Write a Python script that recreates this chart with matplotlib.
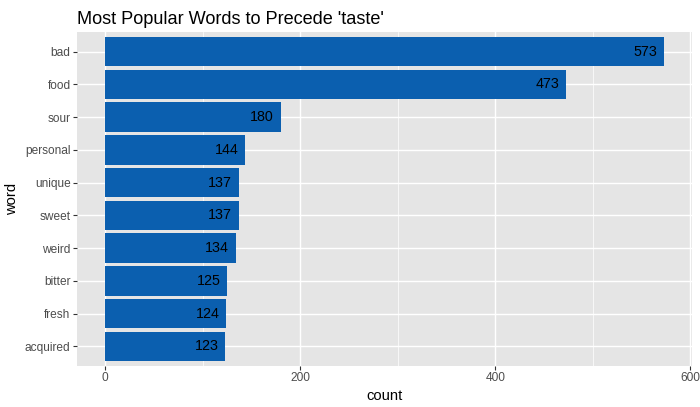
import matplotlib
matplotlib.use("Agg")
import matplotlib.pyplot as plt

words = ["bad", "food", "sour", "personal", "unique", "sweet", "weird", "bitter", "fresh", "acquired"]
counts = [573, 473, 180, 144, 137, 137, 134, 125, 124, 123]
x_ticks = [0, 200, 400, 600]

plt.rcParams["font.family"] = ["Liberation Sans", "DejaVu Sans"]

fig = plt.figure(figsize=(7, 4.07), dpi=100)
ax = fig.add_axes([77 / 700, 1 - 366 / 407, (692 - 77) / 700, (366 - 32) / 407])
ax.set_facecolor("#E5E5E5")

# words listed top to bottom -> positions descending
ypos = [len(words) - i for i in range(len(words))]
ax.barh(ypos, counts, height=0.9, color="#0B5FAF", zorder=3)
for y, c in zip(ypos, counts):
    ax.annotate(str(c), (c, y), xytext=(-4.7, 0), textcoords="offset points",
                ha="right", va="center", fontsize=10.3, color="black", zorder=4)

lo, hi = 0, max(counts)
pad = (hi - lo) * 0.05
ax.set_xlim(lo - pad, hi + pad)
ax.set_ylim(0.4, len(words) + 0.6)

ax.set_xticks(x_ticks)
ax.set_xticks([100, 300, 500], minor=True)
ax.set_yticks(ypos)
ax.set_yticklabels(words)

ax.grid(True, which="major", color="white", linewidth=1.0, zorder=0)
ax.grid(True, which="minor", axis="x", color="white", linewidth=0.5, zorder=0)
ax.set_axisbelow(True)
for s in ax.spines.values():
    s.set_visible(False)
ax.tick_params(which="major", length=3.7 * 0.72, width=0.8, color="#333333",
               labelsize=8.6, labelcolor="#4D4D4D", pad=2)
ax.tick_params(which="minor", length=0)

ax.set_xlabel("count", fontsize=10.6, labelpad=3)
ax.set_ylabel("word", fontsize=10.6, labelpad=4)
ax.set_title("Most Popular Words to Precede 'taste'", fontsize=13.1, loc="left", pad=6)

fig.savefig("out.png", dpi=100)
